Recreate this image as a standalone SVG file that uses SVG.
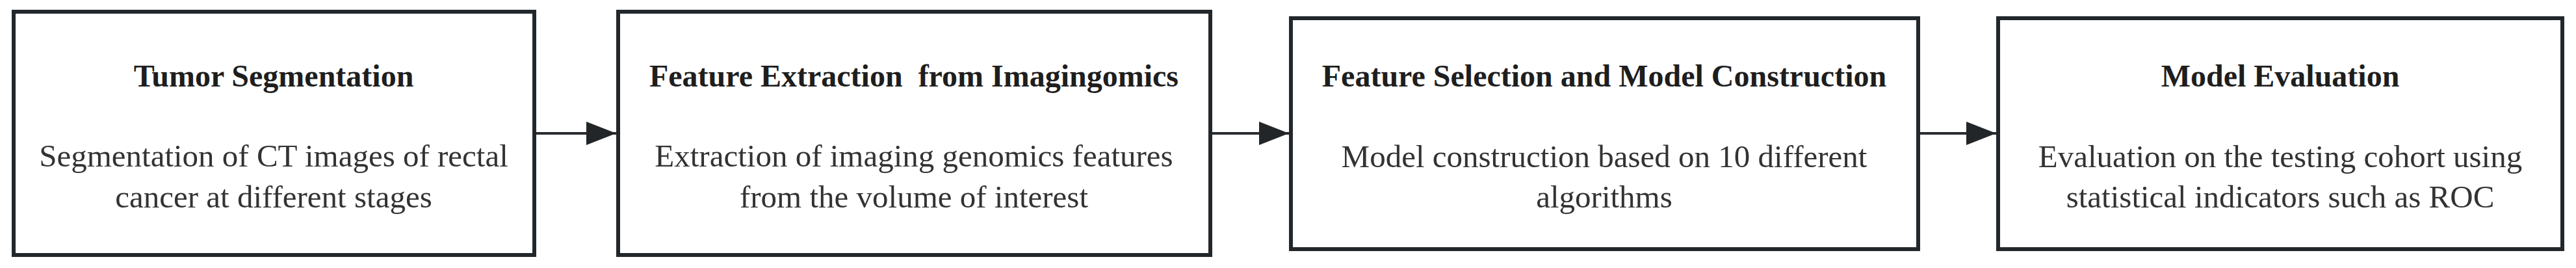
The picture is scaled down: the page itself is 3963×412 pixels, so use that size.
<svg xmlns="http://www.w3.org/2000/svg" width="3963" height="412" viewBox="0 0 3963 412">
<defs>
<style>
.box{fill:#ffffff;stroke:#22272b;stroke-width:6}
.title{font-family:"Liberation Serif","Times New Roman",serif;font-size:48px;font-weight:bold;fill:#1e1e1e;text-anchor:middle}
.body{font-family:"Liberation Serif","Times New Roman",serif;font-size:49px;fill:#333333;text-anchor:middle}
.edge{stroke:#2a2e32;stroke-width:4;fill:none}
</style>
<marker id="arrow" markerUnits="userSpaceOnUse" markerWidth="46" markerHeight="36" refX="46" refY="18" orient="auto">
<path d="M0,0 L46,18 L0,36 Z" fill="#222629"/>
</marker>
</defs>
<rect x="0" y="0" width="3963" height="412" fill="#ffffff"/>
<g id="connectors">
<line class="edge" x1="822" y1="205" x2="948" y2="205" marker-end="url(#arrow)"/>
<line class="edge" x1="1862" y1="205" x2="1983" y2="205" marker-end="url(#arrow)"/>
<line class="edge" x1="2951" y1="205" x2="3071" y2="205" marker-end="url(#arrow)"/>
</g>
<g id="node-tumor-segmentation">
<rect class="box" x="21" y="18" width="801" height="374"/>
<text class="title" x="421" y="133">Tumor Segmentation</text>
<text class="body" x="421" y="256">Segmentation of CT images of rectal</text>
<text class="body" x="421" y="319">cancer at different stages</text>
</g>
<g id="node-feature-extraction">
<rect class="box" x="951" y="18" width="911" height="374"/>
<text class="title" x="1406" y="133" xml:space="preserve">Feature Extraction  from Imagingomics</text>
<text class="body" x="1406" y="256">Extraction of imaging genomics features</text>
<text class="body" x="1406" y="319">from the volume of interest</text>
</g>
<g id="node-feature-selection">
<rect class="box" x="1986" y="28" width="965" height="355"/>
<text class="title" x="2468" y="133">Feature Selection and Model Construction</text>
<text class="body" x="2468" y="257">Model construction based on 10 different</text>
<text class="body" x="2468" y="319">algorithms</text>
</g>
<g id="node-model-evaluation">
<rect class="box" x="3074" y="28" width="868" height="355"/>
<text class="title" x="3508" y="133">Model Evaluation</text>
<text class="body" x="3508" y="257">Evaluation on the testing cohort using</text>
<text class="body" x="3508" y="319">statistical indicators such as ROC</text>
</g>
</svg>
